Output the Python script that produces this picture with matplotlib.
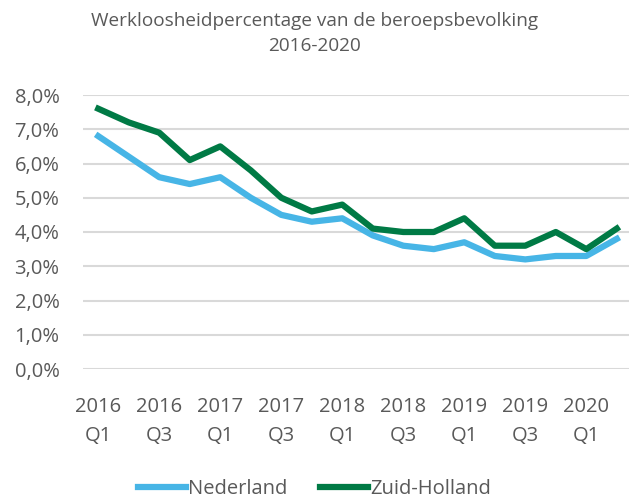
import matplotlib.pyplot as plt
from matplotlib.ticker import FuncFormatter

# kwartalen 2016 Q1 t/m 2020 Q2
quarters = ['2016\nQ1', '2016\nQ2', '2016\nQ3', '2016\nQ4',
            '2017\nQ1', '2017\nQ2', '2017\nQ3', '2017\nQ4',
            '2018\nQ1', '2018\nQ2', '2018\nQ3', '2018\nQ4',
            '2019\nQ1', '2019\nQ2', '2019\nQ3', '2019\nQ4',
            '2020\nQ1', '2020\nQ2']
nederland = [6.8, 6.2, 5.6, 5.4, 5.6, 5.0, 4.5, 4.3, 4.4,
             3.9, 3.6, 3.5, 3.7, 3.3, 3.2, 3.3, 3.3, 3.8]
zuid_holland = [7.6, 7.2, 6.9, 6.1, 6.5, 5.8, 5.0, 4.6, 4.8,
                4.1, 4.0, 4.0, 4.4, 3.6, 3.6, 4.0, 3.5, 4.1]

plt.rcParams['font.family'] = ['Open Sans', 'DejaVu Sans']
grey = '#595959'

fig = plt.figure(figsize=(6.29, 5.0), dpi=100)
ax = fig.add_axes([83 / 629, 1 - 369 / 500, 1 - 83 / 629, (369 - 95) / 500])

x = list(range(len(quarters)))
ax.plot(x, nederland, color='#47B5E6', lw=4.5, label='Nederland')
ax.plot(x, zuid_holland, color='#007A45', lw=4.5, label='Zuid-Holland')

ax.set_xlim(-0.5, 17.4)
ax.set_ylim(0, 8)
ax.set_yticks(range(0, 9))
ax.yaxis.set_major_formatter(FuncFormatter(lambda v, p: f'{v:.1f}%'.replace('.', ',')))
ax.set_xticks(x[::2])
ax.set_xticklabels(quarters[::2], linespacing=1.6, multialignment='center')
ax.tick_params(axis='both', length=0, labelsize=14.5, colors=grey)
ax.tick_params(axis='x', pad=20)
ax.tick_params(axis='y', pad=17)

ax.grid(axis='y', color='#D9D9D9', lw=1.5)
ax.set_axisbelow(True)
for s in ax.spines.values():
    s.set_visible(False)

fig.text(0.5, 0.975, 'Werkloosheidpercentage van de beroepsbevolking\n2016-2020',
         ha='center', va='top', fontsize=13.7, color=grey, linespacing=1.45)

fig.legend(loc='lower center', bbox_to_anchor=(0.5, -0.035), ncol=2, frameon=False,
           fontsize=14.5, handlelength=2.4, handletextpad=0.1, columnspacing=1.6,
           labelcolor=grey)

fig.savefig('out.png', dpi=100)
